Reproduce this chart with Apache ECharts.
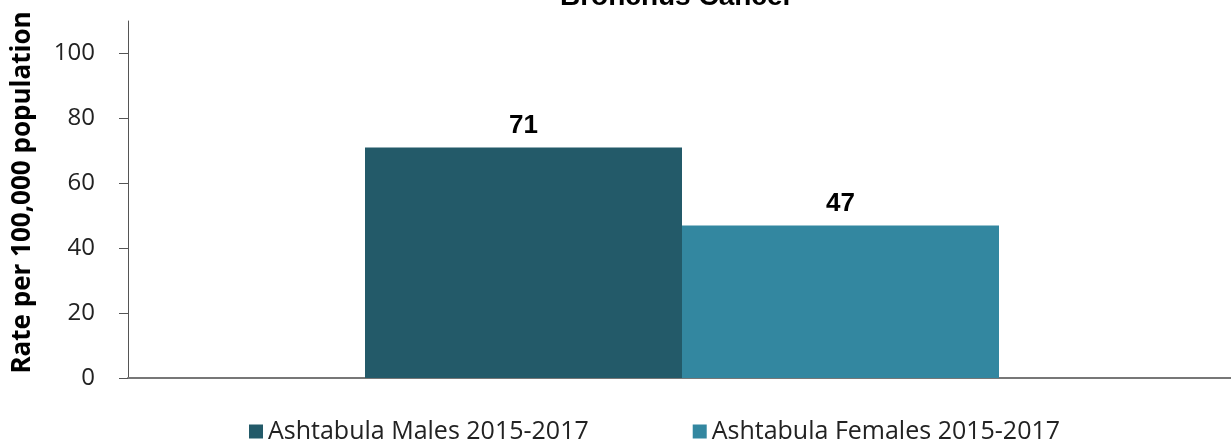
<!DOCTYPE html>
<html>
<head>
<meta charset="utf-8">
<script src="https://cdn.jsdelivr.net/npm/echarts@6/dist/echarts.min.js"></script>
<style>
html,body{margin:0;padding:0;background:#fff;}
#chart{width:1231px;height:444px;}
</style>
</head>
<body>
<div id="chart"></div>
<script>
const categories = [''];
const seriesNames = ['Ashtabula Males 2015-2017', 'Ashtabula Females 2015-2017'];
const malesValues = [71];
const femalesValues = [47];
const yTicks = [0, 20, 40, 60, 80, 100];
const titleText = 'Bronchus Cancer';
const yAxisTitle = 'Rate per 100,000 population';
const colors = ['#235A69', '#3387A0'];

const chart = echarts.init(document.getElementById('chart'), null, {renderer: 'canvas'});
const labelStyle = {
  show: true,
  position: 'top',
  distance: 9,
  fontFamily: 'Liberation Sans, Arial, sans-serif',
  fontWeight: 'bold',
  fontSize: 26,
  color: '#000'
};
chart.setOption({
  animation: false,
  backgroundColor: '#fff',
  title: {
    text: titleText,
    left: 560,
    top: -17,
    padding: 0,
    textStyle: {fontFamily: 'Liberation Sans, Arial, sans-serif', fontWeight: 'bold', fontSize: 28, color: '#000'}
  },
  legend: {
    bottom: -5,
    left: 244,
    itemGap: 104,
    itemWidth: 14,
    itemHeight: 14,
    icon: 'rect',
    textStyle: {fontFamily: 'Open Sans, Noto Sans, sans-serif', fontSize: 25, color: '#222', padding: [0, 0, 0, 0]},
    data: seriesNames
  },
  grid: {left: 128, right: -5, top: 21, bottom: 66, containLabel: false, outerBoundsMode: 'none'},
  xAxis: {
    type: 'category',
    data: categories,
    axisLine: {show: true, lineStyle: {color: '#777', width: 2}},
    axisTick: {show: false},
    axisLabel: {show: false}
  },
  yAxis: {
    type: 'value',
    min: 0,
    max: 110,
    interval: 10,
    name: yAxisTitle,
    nameLocation: 'middle',
    nameGap: 92,
    nameRotate: 90,
    nameTextStyle: {fontFamily: 'Open Sans, Noto Sans, sans-serif', fontWeight: 'bold', fontSize: 26, color: '#000', padding: [0, 0, 0, 14]},
    axisLine: {show: true, lineStyle: {color: '#555', width: 1}},
    axisTick: {show: true, length: 9, customValues: yTicks, lineStyle: {color: '#555'}},
    axisLabel: {
      customValues: yTicks,
      margin: 33,
      fontFamily: 'Open Sans, Noto Sans, sans-serif',
      fontSize: 24,
      color: '#222'
    },
    splitLine: {show: false}
  },
  series: [
    {
      name: seriesNames[0],
      type: 'bar',
      data: malesValues,
      barWidth: 317,
      barGap: '0%',
      itemStyle: {color: colors[0]},
      label: labelStyle
    },
    {
      name: seriesNames[1],
      type: 'bar',
      data: femalesValues,
      barWidth: 317,
      barGap: '0%',
      itemStyle: {color: colors[1]},
      label: labelStyle
    }
  ]
});
</script>
</body>
</html>
